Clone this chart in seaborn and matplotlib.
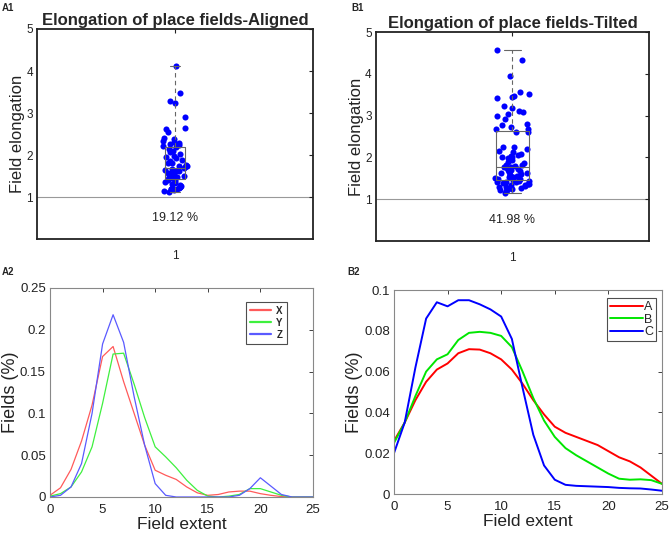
import matplotlib
matplotlib.use("Agg")
import matplotlib.pyplot as plt
import numpy as np
import pandas as pd
import seaborn as sns

# -------------------------------------------------------------------------
# DATA
# -------------------------------------------------------------------------
aligned_elong = [
    4.12, 3.47, 3.29, 3.23, 2.90, 2.64, 2.62, 2.55, 2.40, 2.37, 2.34, 2.31,
    2.29, 2.27, 2.25, 2.23, 2.21,
    2.18, 2.15, 2.10, 2.06, 2.02, 1.98, 1.95, 1.92, 1.88, 1.85, 1.82, 1.80,
    1.77, 1.75, 1.73, 1.71, 1.69,
    1.67, 1.65, 1.63, 1.61, 1.59, 1.58, 1.56, 1.55, 1.53, 1.52, 1.50, 1.49,
    1.47, 1.46, 1.45, 1.44, 1.43,
    1.40, 1.38, 1.35, 1.33, 1.30, 1.28, 1.27, 1.25, 1.23, 1.22, 1.21, 1.20,
    1.19, 1.18, 1.17, 1.15, 1.13,
]
tilted_elong = [
    4.57, 4.33, 3.95, 3.57, 3.52, 3.48, 3.44, 3.42, 3.24, 3.18, 3.12, 3.08,
    3.03, 3.00, 2.92, 2.80, 2.77, 2.73, 2.69, 2.67,
    2.62, 2.60, 2.26, 2.24, 2.20, 2.15, 2.12, 2.08, 2.05, 2.03, 2.02, 2.00,
    1.98, 1.95, 1.90, 1.86, 1.83, 1.81, 1.80, 1.78,
    1.76, 1.75, 1.73, 1.71, 1.69, 1.67, 1.65, 1.63, 1.62, 1.60, 1.58, 1.57,
    1.55, 1.53, 1.52, 1.50, 1.49, 1.48, 1.47, 1.46,
    1.44, 1.43, 1.42, 1.41, 1.40, 1.38, 1.37, 1.36, 1.35, 1.33, 1.32, 1.30,
    1.29, 1.28, 1.26, 1.25, 1.23, 1.21, 1.19, 1.16,
]
aligned_pct = "19.12 %"
tilted_pct = "41.98 %"

extent = list(range(26))
a2_x = [0.002, 0.011, 0.033, 0.067, 0.110, 0.168, 0.180, 0.138, 0.100, 0.062,
        0.032, 0.026, 0.021, 0.012, 0.005, 0.002, 0.003, 0.006, 0.007, 0.007,
        0.004, 0.002, 0.0005, 0.0, 0.0, 0.0]
a2_y = [0.001, 0.004, 0.012, 0.030, 0.060, 0.112, 0.171, 0.172, 0.135, 0.095,
        0.060, 0.048, 0.035, 0.020, 0.008, 0.001, 0.0, 0.001, 0.003, 0.010,
        0.010, 0.006, 0.002, 0.0, 0.0, 0.0]
a2_z = [0.0, 0.002, 0.012, 0.040, 0.100, 0.183, 0.218, 0.185, 0.120, 0.062,
        0.016, 0.002, 0.0, 0.0, 0.0, 0.0, 0.0, 0.0, 0.002, 0.010,
        0.023, 0.013, 0.003, 0.0, 0.0, 0.0]

b2_a = [0.026, 0.035, 0.046, 0.055, 0.061, 0.064, 0.069, 0.071, 0.0708, 0.069,
        0.066, 0.061, 0.054, 0.046, 0.039, 0.033, 0.030, 0.028, 0.026, 0.024,
        0.021, 0.018, 0.016, 0.013, 0.009, 0.005]
b2_b = [0.025, 0.035, 0.048, 0.060, 0.066, 0.0685, 0.0755, 0.079, 0.0795, 0.079,
        0.0775, 0.072, 0.060, 0.047, 0.036, 0.028, 0.0225, 0.019, 0.016, 0.013,
        0.010, 0.0075, 0.007, 0.0072, 0.0068, 0.005]
b2_c = [0.020, 0.035, 0.062, 0.086, 0.094, 0.092, 0.095, 0.095, 0.093, 0.0905,
        0.087, 0.076, 0.052, 0.029, 0.014, 0.007, 0.0045, 0.004, 0.0038, 0.0036,
        0.0034, 0.003, 0.0028, 0.0027, 0.0022, 0.0016]

# -------------------------------------------------------------------------
# STYLE
# -------------------------------------------------------------------------
sns.set_theme(style="white")
plt.rcParams["font.family"] = ["Liberation Sans", "DejaVu Sans"]
plt.rcParams["xtick.direction"] = "in"
plt.rcParams["ytick.direction"] = "in"

fig = plt.figure(figsize=(6.7, 5.34), dpi=100)
ax_a1 = fig.add_axes([0.0552, 0.5524, 0.412, 0.3933])
ax_b1 = fig.add_axes([0.561, 0.5487, 0.4077, 0.3913])
ax_a2 = fig.add_axes([0.0746, 0.0693, 0.3925, 0.3914])
ax_b2 = fig.add_axes([0.588, 0.0749, 0.400, 0.3820])


def elongation_panel(ax, values, title, pct, box_w, jit, seed):
    np.random.seed(seed)
    ax.axhline(1, color="#999999", lw=0.8, zorder=0)
    sns.stripplot(y=values, ax=ax, jitter=jit, color="#0000ff", size=4.4,
                  linewidth=0, zorder=2)
    sns.boxplot(y=values, ax=ax, width=box_w, whis=(0, 100), showfliers=False,
                fill=False, color="#666666", linewidth=0.8,
                whiskerprops=dict(linestyle=(0, (4, 3))), zorder=3)
    ax.set_xlim(-0.5, 0.5)
    ax.set_ylim(0, 5)
    ax.set_yticks([1, 2, 3, 4, 5])
    ax.set_xticks([0])
    ax.set_xticklabels(["1"])
    ax.text(0, 0.5, pct, ha="center", va="center", fontsize=9, color="#222222")
    ax.set_title(title, fontsize=12, fontweight="bold", pad=3)
    ax.set_ylabel("Field elongation", fontsize=12, color="#222222", labelpad=1)
    ax.tick_params(axis="both", labelsize=8.5, length=3, width=0.8, colors="#222222",
                   top=True, right=True, pad=3)
    ax.tick_params(axis="x", pad=8)
    for sp in ax.spines.values():
        sp.set_color("#222222")
        sp.set_linewidth(1.3)


elongation_panel(ax_a1, aligned_elong, "Elongation of place fields-Aligned",
                 aligned_pct, 0.075, 0.045, 3)
elongation_panel(ax_b1, tilted_elong, "Elongation of place fields-Tilted",
                 tilted_pct, 0.12, 0.065, 7)

# A2
df_a2 = pd.DataFrame({"extent": extent * 3,
                      "frac": a2_x + a2_y + a2_z,
                      "axis": ["X"] * 26 + ["Y"] * 26 + ["Z"] * 26})
sns.lineplot(data=df_a2, x="extent", y="frac", hue="axis", ax=ax_a2,
             palette=["#ff5a5a", "#3ef03e", "#5a5aff"], linewidth=0.9)
ax_a2.set_xlim(0, 25)
ax_a2.set_ylim(0, 0.25)
ax_a2.set_xticks([0, 5, 10, 15, 20, 25])
ax_a2.set_yticks([0, 0.05, 0.1, 0.15, 0.2, 0.25])
ax_a2.set_yticklabels(["0", "0.05", "0.1", "0.15", "0.2", "0.25"])
leg = ax_a2.legend(loc="upper right", bbox_to_anchor=(0.90, 0.933),
                   borderaxespad=0, fontsize=7, handlelength=2.2,
                   frameon=True, fancybox=False, borderpad=0.4,
                   labelspacing=0.2, handletextpad=0.5)
for t in leg.get_texts():
    t.set_fontweight("bold")
for ln in leg.get_lines():
    ln.set_linewidth(1.6)
leg.get_frame().set_edgecolor("#222222")
leg.get_frame().set_linewidth(0.8)

# B2
df_b2 = pd.DataFrame({"extent": extent * 3,
                      "frac": b2_a + b2_b + b2_c,
                      "group": ["A"] * 26 + ["B"] * 26 + ["C"] * 26})
sns.lineplot(data=df_b2, x="extent", y="frac", hue="group", ax=ax_b2,
             palette=["#ff0000", "#00e600", "#0000ff"], linewidth=1.4)
ax_b2.set_xlim(0, 25)
ax_b2.set_ylim(0, 0.1)
ax_b2.set_xticks([0, 5, 10, 15, 20, 25])
ax_b2.set_yticks([0, 0.02, 0.04, 0.06, 0.08, 0.1])
ax_b2.set_yticklabels(["0", "0.02", "0.04", "0.06", "0.08", "0.1"])
leg = ax_b2.legend(loc="upper right", bbox_to_anchor=(0.978, 0.961),
                   borderaxespad=0, fontsize=9, handlelength=2.6,
                   frameon=True, fancybox=False, borderpad=0.25,
                   labelspacing=0.05, handletextpad=0.1)
leg.get_frame().set_edgecolor("#222222")
leg.get_frame().set_linewidth(0.8)

for ax in (ax_a2, ax_b2):
    ax.set_xlabel("Field extent", fontsize=12.5, color="#222222", labelpad=1)
    ax.set_ylabel("Fields (%)", fontsize=13, color="#222222", labelpad=1)
    ax.tick_params(axis="both", labelsize=9.5, length=3, width=0.6,
                   colors="#222222", top=True, right=True)
    ax.tick_params(axis="x", pad=5)
    ax.tick_params(axis="y", pad=3)
    for sp in ax.spines.values():
        sp.set_color("#888888")
        sp.set_linewidth(0.8)

# panel labels
for x, y, lab in [(0.003, 0.985, "A1"), (0.525, 0.985, "B1"),
                  (0.003, 0.49, "A2"), (0.518, 0.49, "B2")]:
    fig.text(x, y, lab, fontsize=7, fontweight="bold", va="center", ha="left")

fig.savefig("out.png", dpi=100)
